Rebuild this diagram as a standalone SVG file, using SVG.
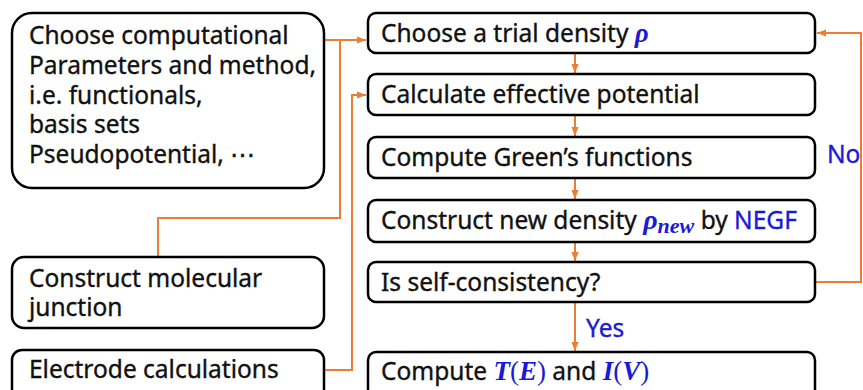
<svg xmlns="http://www.w3.org/2000/svg" width="863" height="390" viewBox="0 0 863 390">
<defs>
<style>
.box{fill:#fff;stroke:#000;stroke-width:2.5}
.t{font-family:"Noto Sans","Open Sans","Liberation Sans",sans-serif;font-size:24.5px;fill:#111;stroke:#111;stroke-width:0.35}
.m{font-family:"Liberation Serif","DejaVu Serif",serif;font-weight:bold;font-style:italic;fill:#1a1ad6;stroke:none}
.mp{font-family:"Liberation Serif","DejaVu Serif",serif;font-style:normal;font-weight:normal;fill:#1a1ad6;stroke:none}
.blue{fill:#1a1ad6;stroke:#1a1ad6}
.c{fill:none;stroke:#ED7D31;stroke-width:2}
</style>
<marker id="a" viewBox="0 0 10 10" refX="10" refY="5" markerWidth="9" markerHeight="9" orient="auto" markerUnits="userSpaceOnUse">
<path d="M0,1 L10,5 L0,9 z" fill="#ED7D31"/>
</marker>
</defs>
<rect width="863" height="390" fill="#fff"/>
<g id="connectors">
<path class="c" d="M324,40 H366" marker-end="url(#a)"/>
<path class="c" d="M340,40 V218 H158 V257"/>
<path class="c" d="M324,370 H352 V95 H366" marker-end="url(#a)"/>
<path class="c" d="M575,53 V73" marker-end="url(#a)"/>
<path class="c" d="M575,115 V136" marker-end="url(#a)"/>
<path class="c" d="M575,178 V199" marker-end="url(#a)"/>
<path class="c" d="M575,242 V261" marker-end="url(#a)"/>
<path class="c" d="M575,302 V351" marker-end="url(#a)"/>
<path class="c" d="M815,282 H861 V33 H817" marker-end="url(#a)"/>
<text class="t blue" x="586" y="337" font-size="23">Yes</text>
<text class="t blue" x="827" y="163" font-size="23">No</text>
</g>
<g id="params">
<rect class="box" x="12" y="13" width="312" height="175" rx="20"/>
<text class="t" x="29" y="44">Choose computational<tspan x="29" dy="30">Parameters and method,</tspan><tspan x="29" dy="30">i.e. functionals,</tspan><tspan x="29" dy="29">basis sets</tspan><tspan x="29" dy="30">Pseudopotential, ⋯</tspan></text>
</g>
<g id="junction">
<rect class="box" x="12" y="257" width="312" height="71" rx="12"/>
<text class="t" x="29" y="287">Construct molecular<tspan x="29" dy="29">junction</tspan></text>
</g>
<g id="electrode">
<rect class="box" x="12" y="350" width="312" height="50" rx="10"/>
<text class="t" x="29" y="378">Electrode calculations</text>
</g>
<g id="trial">
<rect class="box" x="368" y="13" width="447" height="40" rx="8"/>
<text class="t" x="381" y="42">Choose a trial density <tspan class="m" font-size="27">ρ</tspan></text>
</g>
<g id="potential">
<rect class="box" x="368" y="74" width="447" height="41" rx="8"/>
<text class="t" x="381" y="103">Calculate effective potential</text>
</g>
<g id="green">
<rect class="box" x="368" y="137" width="447" height="41" rx="8"/>
<text class="t" x="381" y="166">Compute Green’s functions</text>
</g>
<g id="newdensity">
<rect class="box" x="368" y="200" width="447" height="42" rx="8"/>
<text class="t" x="381" y="229">Construct new density <tspan class="m" font-size="28">ρ</tspan><tspan class="m" font-size="22" dy="4">new</tspan><tspan dy="-4"> by </tspan><tspan class="blue">NEGF</tspan></text>
</g>
<g id="selfconsistency">
<rect class="box" x="368" y="262" width="447" height="40" rx="8"/>
<text class="t" x="381" y="291">Is self-consistency?</text>
</g>
<g id="compute">
<rect class="box" x="368" y="352" width="447" height="50" rx="8"/>
<text class="t" x="381" y="380">Compute <tspan class="m" font-size="27">T</tspan><tspan class="mp" font-size="27">(</tspan><tspan class="m" font-size="27">E</tspan><tspan class="mp" font-size="27">)</tspan> and <tspan class="m" font-size="27">I</tspan><tspan class="mp" font-size="27">(</tspan><tspan class="m" font-size="27">V</tspan><tspan class="mp" font-size="27">)</tspan></text>
</g>
</svg>
